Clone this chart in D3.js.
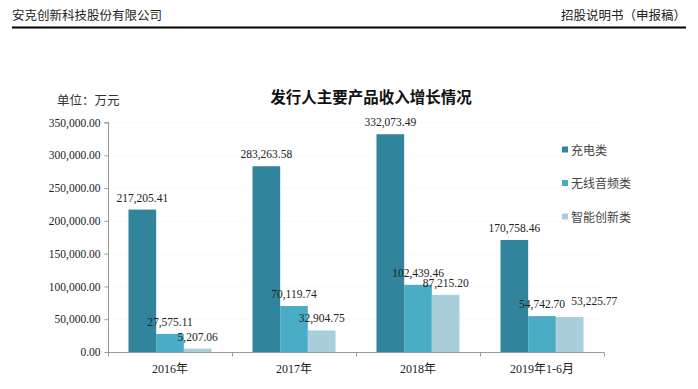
<!DOCTYPE html>
<html>
<head>
<meta charset="utf-8">
<script src="https://cdn.jsdelivr.net/npm/d3@7"></script>
<style>
  body { margin: 0; background: #fff; }
  svg { display: block; }
</style>
</head>
<body>
<div id="chart"></div>
<script>
var width = 698;
var height = 389;

var categories = ["2016年", "2017年", "2018年", "2019年1-6月"];
var seriesNames = ["充电类", "无线音频类", "智能创新类"];
var charging = [217205.41, 283263.58, 332073.49, 170758.46];
var audio = [27575.11, 70119.74, 102439.46, 54742.70];
var smart = [5207.06, 32904.75, 87215.20, 53225.77];
var yTicks = [0, 50000, 100000, 150000, 200000, 250000, 300000, 350000];
var colors = ["#31849b", "#4bacc6", "#a9cfdc"];

var serif = "'Liberation Serif', 'Noto Sans CJK SC', serif";
var cjk = "'Noto Sans CJK SC', sans-serif";

var svg = d3.select("#chart")
  .append("svg")
  .attr("width", width)
  .attr("height", height);

// page header
svg.append("text")
  .attr("x", 12).attr("y", 20)
  .attr("font-family", cjk).attr("font-size", 12.5).attr("fill", "#222")
  .text("安克创新科技股份有限公司");
svg.append("text")
  .attr("x", 686).attr("y", 20).attr("text-anchor", "end")
  .attr("font-family", cjk).attr("font-size", 12.5).attr("fill", "#222")
  .text("招股说明书（申报稿）");
svg.append("line")
  .attr("x1", 12).attr("x2", 686).attr("y1", 27.5).attr("y2", 27.5)
  .attr("stroke", "#000").attr("stroke-width", 2);

// title + unit
svg.append("text")
  .attr("x", 371).attr("y", 103).attr("text-anchor", "middle")
  .attr("font-family", cjk).attr("font-size", 15.5).attr("font-weight", "bold")
  .attr("fill", "#111")
  .text("发行人主要产品收入增长情况");
svg.append("text")
  .attr("x", 57).attr("y", 105)
  .attr("font-family", cjk).attr("font-size", 12.5).attr("fill", "#333")
  .text("单位：万元");

var x0 = d3.scaleBand().domain(categories).range([108, 604]).paddingInner(0).paddingOuter(0);
var x1 = d3.scaleBand().domain(seriesNames).range([0, x0.bandwidth()]).paddingOuter(0.74).paddingInner(0);
var y = d3.scaleLinear().domain([0, 350000]).range([352, 122.5]);

// faint gridlines
svg.append("g").selectAll("line")
  .data(yTicks.slice(1))
  .join("line")
  .attr("x1", 108).attr("x2", 604)
  .attr("y1", d => y(d) + 0.5).attr("y2", d => y(d) + 0.5)
  .attr("stroke", "#f3f3f3").attr("stroke-dasharray", "2,2");

// y axis
var yAxis = svg.append("g")
  .attr("transform", "translate(108.5,0)")
  .call(d3.axisLeft(y).tickValues(yTicks).tickSize(4).tickFormat(d3.format(",.2f")));
yAxis.select(".domain").attr("stroke", "#999").attr("d", "M-4," + y(350000) + "H0V" + y(0));
yAxis.selectAll(".tick line").attr("stroke", "#999");
yAxis.selectAll(".tick text")
  .attr("font-family", serif).attr("font-size", 11.5).attr("fill", "#222").attr("x", -8);

var series = [charging, audio, smart];
var rows = categories.map((c, i) => ({ cat: c, values: series.map((s, j) => ({ name: seriesNames[j], value: s[i], idx: j })) }));

var groups = svg.append("g").selectAll("g")
  .data(rows)
  .join("g")
  .attr("transform", d => "translate(" + x0(d.cat) + ",0)");

groups.selectAll("rect")
  .data(d => d.values)
  .join("rect")
  .attr("x", d => x1(d.name))
  .attr("width", x1.bandwidth())
  .attr("y", d => y(d.value))
  .attr("height", d => y(0) - y(d.value))
  .attr("fill", d => colors[d.idx]);

groups.each(function() {
  var g = d3.select(this);
  var labels = g.selectAll("text")
    .data(d => d.values)
    .join("text")
    .attr("x", d => x1(d.name) + x1.bandwidth() / 2)
    .attr("y", d => y(d.value) - 8)
    .attr("text-anchor", "middle")
    .attr("font-family", serif).attr("font-size", 11.5).attr("fill", "#222")
    .text(d => d3.format(",.2f")(d.value));
  // nudge a label right (and up a bit) when it sits on the same line as the one before it
  var nodes = labels.nodes();
  for (let i = 1; i < nodes.length; i++) {
    var prev = nodes[i - 1].getBBox();
    var cur = nodes[i].getBBox();
    var sameLine = Math.abs(cur.y - prev.y) < 6;
    if (sameLine && cur.x < prev.x + prev.width + 4) {
      var dx = prev.x + prev.width + 6 - cur.x;
      d3.select(nodes[i])
        .attr("x", +d3.select(nodes[i]).attr("x") + dx)
        .attr("y", +d3.select(nodes[i]).attr("y") - 4);
    }
  }
});

// x axis
var xAxis = svg.append("g")
  .attr("transform", "translate(0," + (y(0) + 0.5) + ")");
xAxis.append("line")
  .attr("x1", 108).attr("x2", 604).attr("stroke", "#999");
xAxis.selectAll(".tk")
  .data(categories.map(c => x0(c)).concat([604]))
  .join("line")
  .attr("x1", d => d + 0.5).attr("x2", d => d + 0.5)
  .attr("y1", 0).attr("y2", 4).attr("stroke", "#999");
xAxis.selectAll("text")
  .data(categories)
  .join("text")
  .attr("x", d => x0(d) + x0.bandwidth() / 2)
  .attr("y", 20)
  .attr("text-anchor", "middle")
  .attr("font-family", serif).attr("font-size", 12).attr("fill", "#222")
  .text(d => d);

// legend
var legend = svg.append("g").selectAll("g")
  .data(seriesNames)
  .join("g")
  .attr("transform", (d, i) => "translate(562," + (150 + i * 33.5) + ")");
legend.append("rect")
  .attr("x", 0).attr("y", -3.5).attr("width", 6).attr("height", 6)
  .attr("fill", (d, i) => colors[i]);
legend.append("text")
  .attr("x", 9).attr("y", 4.5)
  .attr("font-family", cjk).attr("font-size", 12).attr("fill", "#444")
  .text(d => d);
</script>
</body>
</html>
